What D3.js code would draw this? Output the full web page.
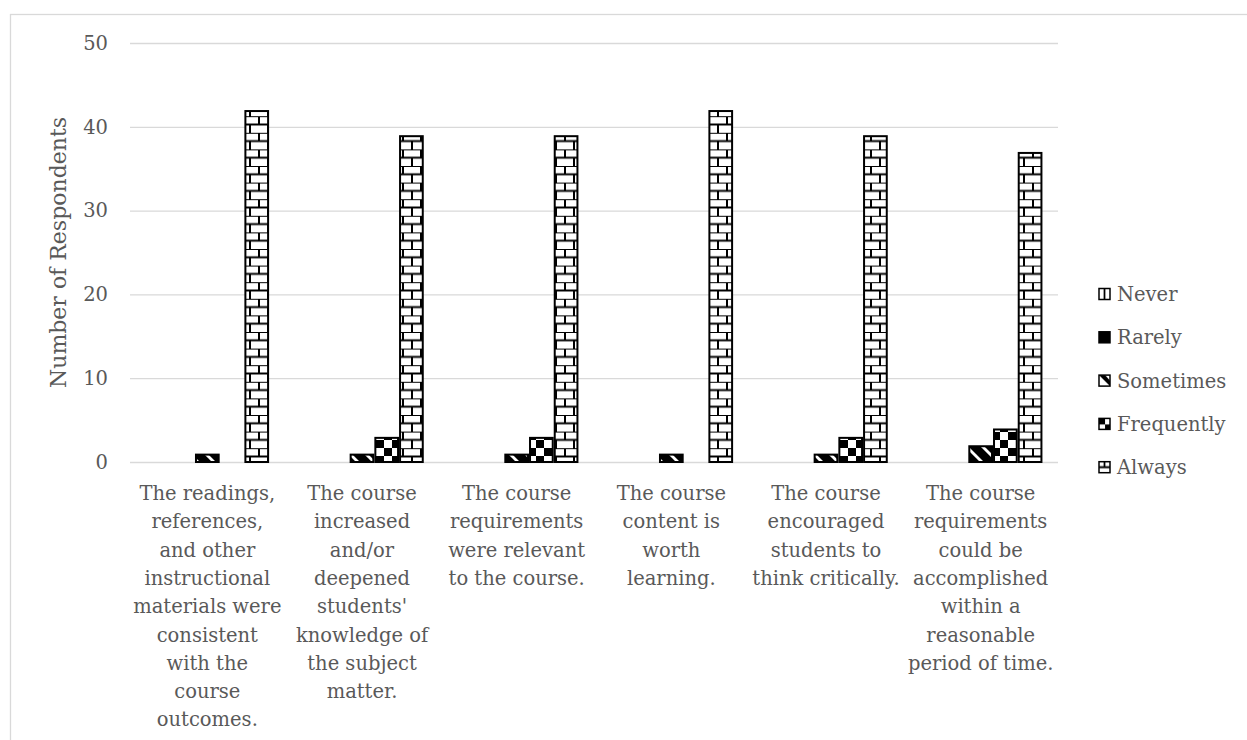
<!DOCTYPE html>
<html>
<head>
<meta charset="utf-8">
<script src="https://cdn.jsdelivr.net/npm/d3@7"></script>
<style>
  body { margin: 0; background: #fff; }
  svg { display: block; }
  text { font-family: "DejaVu Serif", serif; fill: #595959; }
</style>
</head>
<body>
<svg width="1247" height="740"></svg>
<script>
// category labels, already broken into lines as in the picture
const categories = [
    ["The readings,", "references,", "and other", "instructional", "materials were", "consistent", "with the", "course", "outcomes."],
    ["The course", "increased", "and/or", "deepened", "students'", "knowledge of", "the subject", "matter."],
    ["The course", "requirements", "were relevant", "to the course."],
    ["The course", "content is", "worth", "learning."],
    ["The course", "encouraged", "students to", "think critically."],
    ["The course", "requirements", "could be", "accomplished", "within a", "reasonable", "period of time."]
];
const seriesNames = ["Never", "Rarely", "Sometimes", "Frequently", "Always"];
const never      = [0, 0, 0, 0, 0, 0];
const rarely     = [0, 0, 0, 0, 0, 0];
const sometimes  = [1, 1, 1, 1, 1, 2];
const frequently = [0, 3, 3, 0, 3, 4];
const always     = [42, 39, 39, 42, 39, 37];
const yTicks = [0, 10, 20, 30, 40, 50];
const yTitle = "Number of Respondents";

const values = [never, rarely, sometimes, frequently, always];
const catIdx = categories.map((c, i) => i);

const svg = d3.select("svg");
const defs = svg.append("defs");

// outer chart border
svg.append("rect")
    .attr("x", 10.5).attr("y", 14.5)
    .attr("width", 1260).attr("height", 760)
    .attr("fill", "none")
    .attr("stroke", "#d9d9d9")
    .attr("stroke-width", 1.3);

const plotL = 130, plotR = 1058, plotT = 43, plotB = 462;

const x0 = d3.scaleBand().domain(catIdx).range([plotL, plotR]);
const x1 = d3.scaleBand().domain(seriesNames).range([0, x0.bandwidth()]).paddingOuter(0.63);
const y = d3.scaleLinear().domain([0, 50]).range([plotB, plotT]);

// ---- fill patterns for the bars ----
function pat(id, w, h) {
    return defs.append("pattern")
        .attr("id", id)
        .attr("patternUnits", "userSpaceOnUse")
        .attr("width", w).attr("height", h);
}
// Never: vertical lines
let p = pat("p-never", 12, 12);
p.append("rect").attr("width", 12).attr("height", 12).attr("fill", "#fff");
p.append("line").attr("x1", 6).attr("x2", 6).attr("y1", 0).attr("y2", 12).attr("stroke", "#000").attr("stroke-width", 2);
// Sometimes: wide downward diagonal
p = pat("p-some", 16, 16);
p.append("rect").attr("width", 16).attr("height", 16).attr("fill", "#fff");
p.append("path").attr("d", "M0,0 L6,0 L16,10 L16,16 L10,16 L0,6 Z M0,10 L6,16 L0,16 Z M10,0 L16,0 L16,6 Z").attr("fill", "#000");
// Frequently: large checkerboard
p = pat("p-freq", 16, 16);
p.append("rect").attr("width", 16).attr("height", 16).attr("fill", "#fff");
p.append("rect").attr("width", 8).attr("height", 8).attr("fill", "#000");
p.append("rect").attr("x", 8).attr("y", 8).attr("width", 8).attr("height", 8).attr("fill", "#000");
// Always: horizontal bricks
p = pat("p-always", 18, 16.6);
p.append("rect").attr("width", 18).attr("height", 16.6).attr("fill", "#fff");
p.append("path")
    .attr("d", "M0,0 H18 M0,8.3 H18 M7,0 V8.3 M16,8.3 V16.6")
    .attr("stroke", "#000").attr("stroke-width", 2).attr("fill", "none");

const barFill = {
    Never: "url(#p-never)",
    Rarely: "#000",
    Sometimes: "url(#p-some)",
    Frequently: "url(#p-freq)",
    Always: "url(#p-always)"
};

// legend versions of the patterns, one tile per icon
function lpat(id) {
    return defs.append("pattern")
        .attr("id", id)
        .attr("patternUnits", "objectBoundingBox")
        .attr("patternContentUnits", "objectBoundingBox")
        .attr("width", 1).attr("height", 1);
}
p = lpat("l-never");
p.append("rect").attr("width", 1).attr("height", 1).attr("fill", "#fff");
p.append("rect").attr("x", 0.42).attr("width", 0.16).attr("height", 1).attr("fill", "#000");
p = lpat("l-some");
p.append("rect").attr("width", 1).attr("height", 1).attr("fill", "#fff");
p.append("path").attr("d", "M0,0 L0.55,0 L1,0.5 L1,1 Z").attr("fill", "#000");
p = lpat("l-freq");
p.append("rect").attr("width", 1).attr("height", 1).attr("fill", "#fff");
p.append("rect").attr("width", 0.55).attr("height", 0.55).attr("fill", "#000");
p.append("rect").attr("x", 0.55).attr("y", 0.55).attr("width", 0.45).attr("height", 0.45).attr("fill", "#000");
p = lpat("l-always");
p.append("rect").attr("width", 1).attr("height", 1).attr("fill", "#fff");
p.append("path").attr("d", "M0,0.5 H1 M0.5,0 V0.5").attr("stroke", "#000").attr("stroke-width", 0.16).attr("fill", "none");

const legendFill = {
    Never: "url(#l-never)",
    Rarely: "#000",
    Sometimes: "url(#l-some)",
    Frequently: "url(#l-freq)",
    Always: "url(#l-always)"
};

// ---- grid + y axis ----
const yAxis = d3.axisLeft(y).tickValues(yTicks).tickSize(-(plotR - plotL)).tickPadding(22);
const gy = svg.append("g").attr("transform", `translate(${plotL},0)`).call(yAxis);
gy.select(".domain").remove();
gy.selectAll(".tick line").attr("stroke", "#d9d9d9").attr("stroke-width", 1.3);
gy.selectAll(".tick text")
    .attr("font-family", "DejaVu Serif, serif")
    .attr("font-size", 19.5)
    .attr("fill", "#595959");

svg.append("text")
    .attr("transform", `translate(66,${(plotT + plotB) / 2}) rotate(-90)`)
    .attr("text-anchor", "middle")
    .attr("font-size", 22)
    .text(yTitle);

// ---- bars ----
const barData = [];
catIdx.forEach(ci => {
    seriesNames.forEach((s, si) => {
        barData.push({ ci: ci, s: s, v: values[si][ci] });
    });
});

svg.selectAll(".bar")
    .data(barData.filter(d => d.v > 0))
    .enter().append("rect")
    .attr("class", "bar")
    .attr("x", d => x0(d.ci) + x1(d.s) + 1)
    .attr("y", d => y(d.v) + 1)
    .attr("width", x1.bandwidth() - 2)
    .attr("height", d => y(0) - y(d.v) - 1)
    .attr("fill", d => barFill[d.s])
    .attr("stroke", "#000")
    .attr("stroke-width", 2);

// ---- category labels ----
const lab = svg.selectAll(".cat")
    .data(categories)
    .enter().append("text")
    .attr("class", "cat")
    .attr("text-anchor", "middle")
    .attr("font-size", 19.5);
lab.each(function(lines, i) {
    const t = d3.select(this);
    lines.forEach((ln, k) => {
        t.append("tspan")
            .attr("x", x0(i) + x0.bandwidth() / 2)
            .attr("y", 500 + k * 28.3)
            .text(ln);
    });
});

// ---- legend ----
const leg = svg.selectAll(".leg")
    .data(seriesNames)
    .enter().append("g")
    .attr("class", "leg")
    .attr("transform", (d, i) => `translate(1099,${294 + i * 43.3})`);
leg.append("rect")
    .attr("x", 0).attr("y", -5.5)
    .attr("width", 11).attr("height", 11)
    .attr("fill", d => legendFill[d])
    .attr("stroke", "#000")
    .attr("stroke-width", 1.5);
leg.append("text")
    .attr("x", 18)
    .attr("y", 7)
    .attr("font-size", 19.5)
    .text(d => d);
</script>
</body>
</html>
